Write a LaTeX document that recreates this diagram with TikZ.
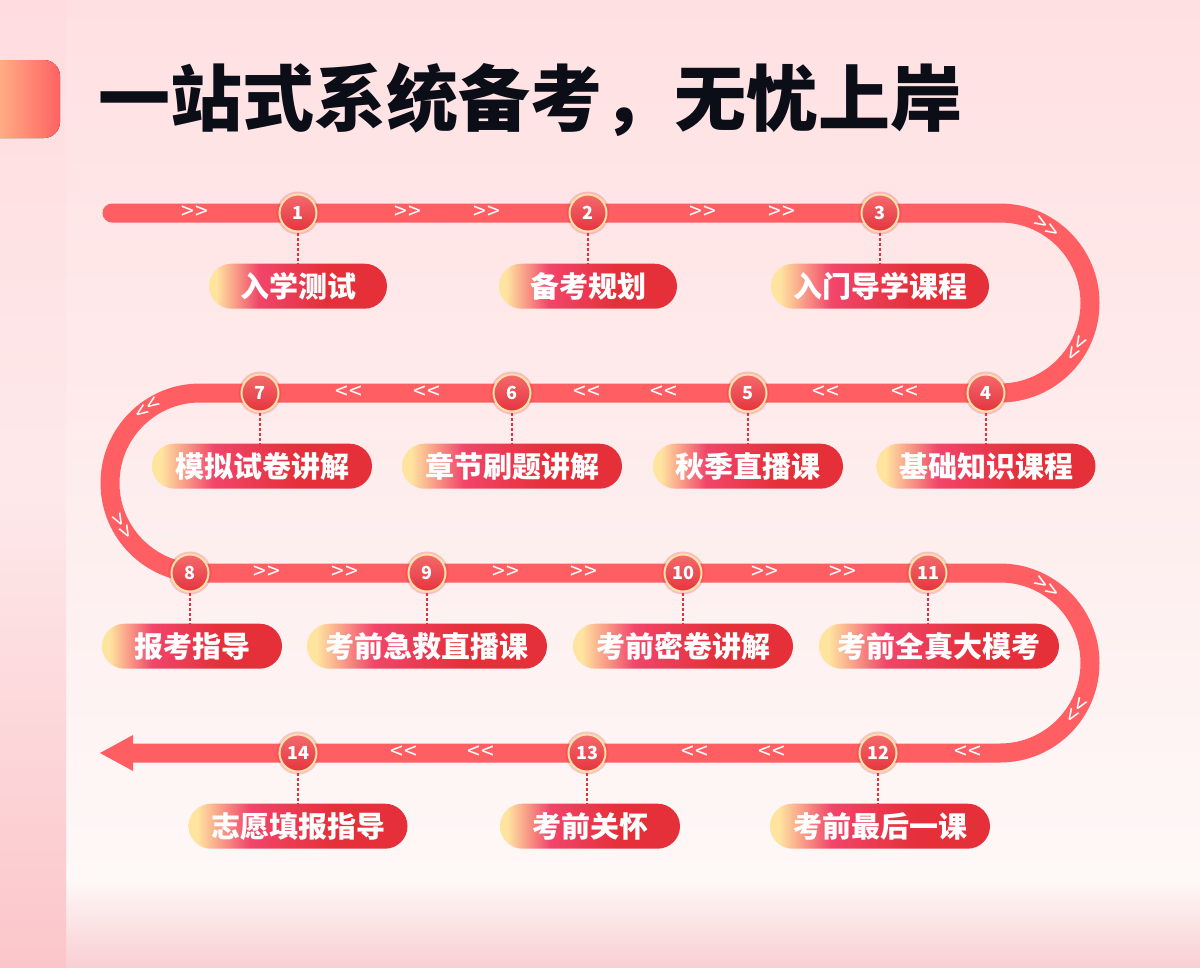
\documentclass[tikz,border=0pt]{standalone}
\usepackage{fontspec}
\newfontfamily\cjk{Noto Sans CJK SC}
\usetikzlibrary{positioning}
\definecolor{trackred}{HTML}{FF5E63}
\definecolor{dottop}{HTML}{F46A6C}
\definecolor{dotbot}{HTML}{E5343F}
\definecolor{dotrim}{HTML}{FFE1A4}
\definecolor{pillyellow}{HTML}{FFE4A0}
\definecolor{pillpink}{HTML}{F1456A}
\definecolor{pillred}{HTML}{E5303A}
\definecolor{titleink}{HTML}{0B0D17}
\definecolor{stemred}{HTML}{E3323C}
\definecolor{bgtop}{HTML}{FFE0E2}
\definecolor{bgmid}{HTML}{FEF8F7}
\definecolor{bgbot}{HTML}{F8CFD2}
\definecolor{striptop}{HTML}{FFDCDF}
\definecolor{stripmid}{HTML}{FEE9EA}
\definecolor{stripbot}{HTML}{FBC6CA}
\definecolor{tableft}{HTML}{FFC590}
\definecolor{tabright}{HTML}{FF6262}
\pgfdeclarehorizontalshading{pillshade}{100bp}{color(0bp)=(pillyellow); color(27bp)=(pillyellow); color(39bp)=(pillpink); color(58bp)=(pillred); color(100bp)=(pillred)}

\begin{document}
\begin{tikzpicture}[x=1pt, y=1pt,
  dot/.style={circle, minimum size=37pt, inner sep=0pt, draw=dotrim, line width=2pt,
    top color=dottop, bottom color=dotbot, text=white,
    font=\cjk\bfseries\fontsize{18}{18}\selectfont,
    preaction={draw=dotbot, line width=6pt, opacity=.25}},
  pill/.style={rectangle, rounded corners=22.5pt, minimum height=45pt, inner sep=0pt,
    shade, shading=pillshade, text=white, font=\cjk\bfseries\fontsize{29}{29}\selectfont},
  stem/.style={stemred, line width=1.6pt, dash pattern=on 3pt off 2pt},
  track/.style={trackred, line width=19pt, line cap=round},
  chev/.style={text=white, inner sep=0pt, font=\cjk\fontsize{23}{23}\selectfont}]
  % background
  \fill[top color=bgtop, bottom color=bgmid] (0,-880) rectangle (1200,0);
  \fill[top color=bgmid, bottom color=bgbot] (0,-967) rectangle (1200,-880);
  \fill[top color=striptop, bottom color=stripbot, middle color=stripmid] (0,-967) rectangle (66,0);
  \useasboundingbox (0,-967) rectangle (1200,0);

  % title
  \fill[left color=tableft, right color=tabright, rounded corners=16pt] (-20,-60) rectangle (60,-138);
  \node[anchor=west, inner sep=0pt, text=titleink,
    font=\cjk\bfseries\fontsize{72}{72}\selectfont] (title) at (98,-100) {一站式系统备考，无忧上岸};

  % road
  \draw[track] (112,-213) -- (1000,-213) arc[start angle=90, end angle=-90, radius=90]
    -- (200,-393) arc[start angle=90, end angle=270, radius=90]
    -- (1000,-573) arc[start angle=90, end angle=-90, radius=90] -- (133,-753);
  \fill[trackred] (100,-753) -- (133,-735) -- (133,-771) -- cycle;

  % direction marks
  \foreach \x [count=\k] in {195,408,487,703,782}
    \node[chev] (ra\k) at (\x,-213) {>\kern1pt>};
  \foreach \x [count=\k] in {905,826,664,587,427,349}
    \node[chev] (rb\k) at (\x,-393) {<\kern1pt<};
  \foreach \x [count=\k] in {267,345,506,584,765,843}
    \node[chev] (rc\k) at (\x,-573) {>\kern1pt>};
  \foreach \x [count=\k] in {968,772,695,481,404}
    \node[chev] (rd\k) at (\x,-753) {<\kern1pt<};
  \node[chev, rotate=-32] (aa1) at (1046,-228) {>\kern1pt>};
  \node[chev, rotate=60] (aa2) at (1078,-349) {<\kern1pt<};
  \node[chev, rotate=35] (ab1) at (148,-409) {<\kern1pt<};
  \node[chev, rotate=-61] (ab2) at (121,-527) {>\kern1pt>};
  \node[chev, rotate=-32] (ac1) at (1046,-588) {>\kern1pt>};
  \node[chev, rotate=58] (ac2) at (1078,-711) {<\kern1pt<};

  % steps
  \node[dot] (c1) at (298,-213) {1};
  \node[dot] (c2) at (588,-213) {2};
  \node[dot] (c3) at (880,-213) {3};
  \node[dot] (c4) at (986,-393) {4};
  \node[dot] (c5) at (748,-393) {5};
  \node[dot] (c6) at (512,-393) {6};
  \node[dot] (c7) at (260,-393) {7};
  \node[dot] (c8) at (190,-573) {8};
  \node[dot] (c9) at (427,-573) {9};
  \node[dot] (c10) at (683,-573) {10};
  \node[dot] (c11) at (928,-573) {11};
  \node[dot] (c12) at (878,-753) {12};
  \node[dot] (c13) at (587,-753) {13};
  \node[dot] (c14) at (298,-753) {14};

  \node[pill, minimum width=178pt, below=31pt of c1] (p1) {入学测试};
  \node[pill, minimum width=178pt, below=31pt of c2] (p2) {备考规划};
  \node[pill, minimum width=218pt, below=31pt of c3] (p3) {入门导学课程};
  \node[pill, minimum width=219pt, below=31pt of c4] (p4) {基础知识课程};
  \node[pill, minimum width=190pt, below=31pt of c5] (p5) {秋季直播课};
  \node[pill, minimum width=220pt, below=31pt of c6] (p6) {章节刷题讲解};
  \node[pill, minimum width=220pt, below=31pt of c7, xshift=2pt] (p7) {模拟试卷讲解};
  \node[pill, minimum width=180pt, below=31pt of c8, xshift=2pt] (p8) {报考指导};
  \node[pill, minimum width=240pt, below=31pt of c9] (p9) {考前急救直播课};
  \node[pill, minimum width=220pt, below=31pt of c10] (p10) {考前密卷讲解};
  \node[pill, minimum width=240pt, below=31pt of c11, xshift=11pt] (p11) {考前全真大模考};
  \node[pill, minimum width=220pt, below=31pt of c12, xshift=2pt] (p12) {考前最后一课};
  \node[pill, minimum width=180pt, below=31pt of c13, xshift=3pt] (p13) {考前关怀};
  \node[pill, minimum width=219pt, below=31pt of c14] (p14) {志愿填报指导};

  \foreach \i in {1,...,14}
    \draw[stem] (c\i.south) -- (c\i.south |- p\i.north);
\end{tikzpicture}
\end{document}
